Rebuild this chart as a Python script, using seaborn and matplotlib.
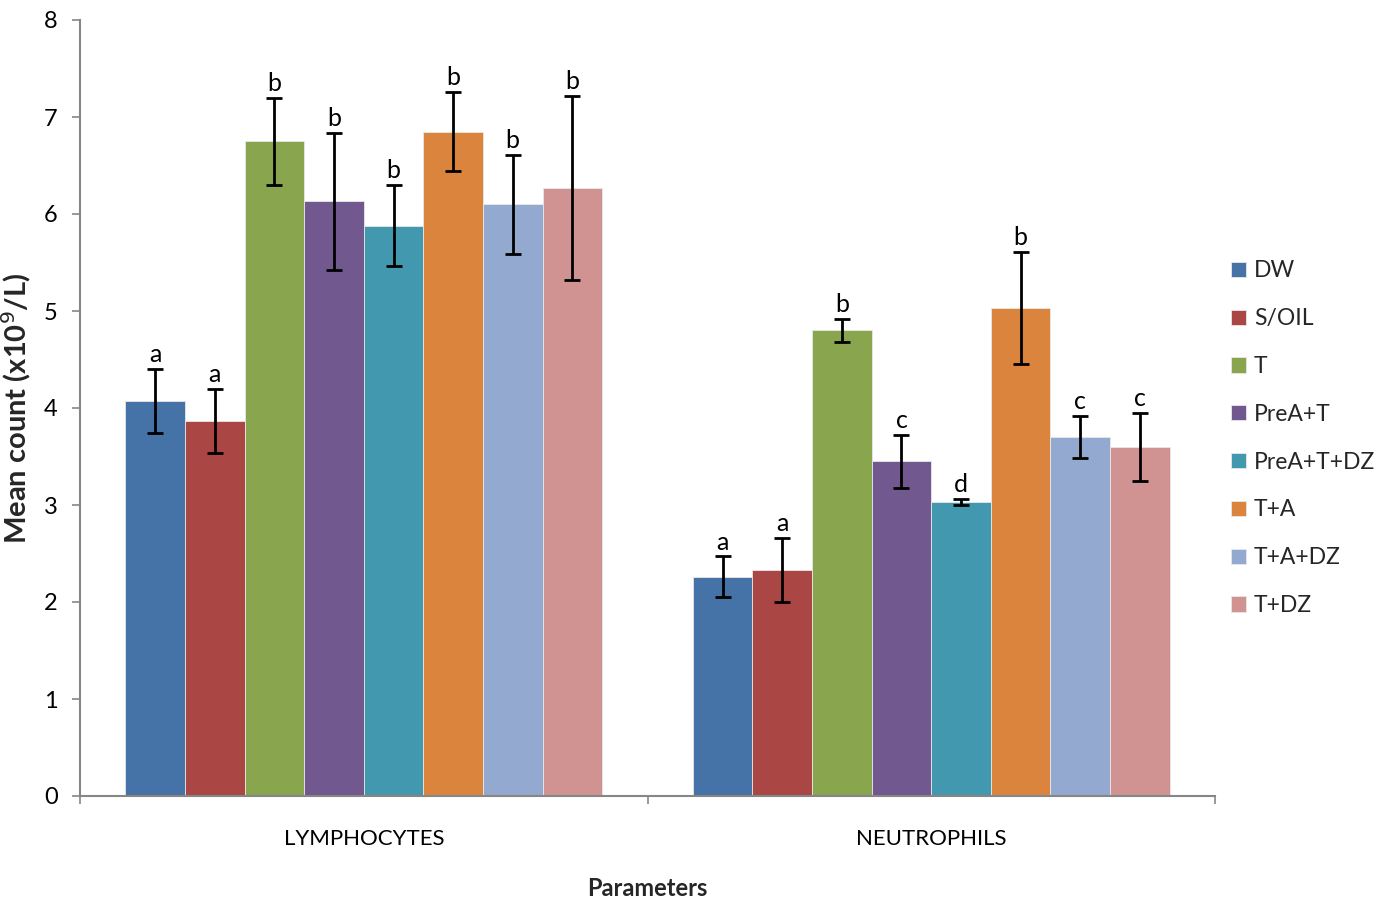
import matplotlib
matplotlib.use("Agg")
import matplotlib.pyplot as plt
import seaborn as sns
import pandas as pd
import numpy as np

parameters = ["LYMPHOCYTES", "NEUTROPHILS"]
groups = ["DW", "S/OIL", "T", "PreA+T", "PreA+T+DZ", "T+A", "T+A+DZ", "T+DZ"]
lymph_mean = [4.07, 3.87, 6.75, 6.13, 5.88, 6.85, 6.10, 6.27]
lymph_err = [0.33, 0.33, 0.45, 0.71, 0.42, 0.41, 0.51, 0.95]
lymph_letters = ["a", "a", "b", "b", "b", "b", "b", "b"]
neut_mean = [2.26, 2.33, 4.80, 3.45, 3.03, 5.03, 3.70, 3.60]
neut_err = [0.21, 0.33, 0.12, 0.27, 0.03, 0.58, 0.22, 0.35]
neut_letters = ["a", "a", "b", "c", "d", "b", "c", "c"]
colors = ["#4572A7", "#AA4643", "#89A54E", "#71588F", "#4198AF", "#DB843D", "#93A9CF", "#D19392"]

sns.set_theme(style="white")
plt.rcParams["font.family"] = ["Lato", "DejaVu Sans"]

rows = []
for p, means, errs, lets in [(parameters[0], lymph_mean, lymph_err, lymph_letters),
                             (parameters[1], neut_mean, neut_err, neut_letters)]:
    for g, m, e, l in zip(groups, means, errs, lets):
        rows.append({"Parameter": p, "Group": g, "Mean": m, "Err": e, "Letter": l})
df = pd.DataFrame(rows)

fig = plt.figure(figsize=(13.9, 8.98), dpi=100)
ax = fig.add_axes([80 / 1390, 1 - 796 / 898, (1215 - 80) / 1390, (796 - 20) / 898])

sns.barplot(data=df, x="Parameter", y="Mean", hue="Group", hue_order=groups,
            order=parameters, palette=colors, width=0.84, gap=0, ax=ax,
            errorbar=None, edgecolor="#e8e8e8", linewidth=0.6, saturation=1)

# error bars and letters using bar positions
for container, g in zip(ax.containers, groups):
    for bar, p in zip(container, parameters):
        r = df[(df.Group == g) & (df.Parameter == p)].iloc[0]
        xc = bar.get_x() + bar.get_width() / 2
        h = bar.get_height()
        ax.errorbar(xc, h, yerr=r.Err, fmt="none", ecolor="black",
                    elinewidth=2, capsize=6, capthick=2, zorder=5)
        ax.annotate(r.Letter, (xc, h + r.Err), xytext=(0, 2),
                    textcoords="offset points", ha="center", va="bottom",
                    fontsize=18, color="black")

ax.set_ylim(0, 8)
ax.set_xlim(-0.5, 1.5)
ax.set_yticks(range(0, 9))
ax.tick_params(axis="y", which="major", left=True, length=6, width=1.2,
               color="#868686", labelsize=17, pad=10, labelcolor="black")
ax.set_xticks([0, 1])
ax.set_xticklabels(parameters)
ax.tick_params(axis="x", which="major", length=0, labelsize=16, pad=24, labelcolor="black")
ax.set_xticks([-0.5, 0.5, 1.5], minor=True)
ax.tick_params(axis="x", which="minor", bottom=True, length=6, width=1.2, color="#868686")

for s in ["top", "right"]:
    ax.spines[s].set_visible(False)
for s in ["left", "bottom"]:
    ax.spines[s].set_color("#868686")
    ax.spines[s].set_linewidth(1.5)

ax.set_xlabel("Parameters", fontsize=17, fontweight="bold", labelpad=20)
ax.set_ylabel("Mean count (x10$^{9}$/L)", fontsize=21, fontweight="bold", labelpad=8)

handles, labels = ax.get_legend_handles_labels()
leg = ax.legend(handles, labels, loc="center left", bbox_to_anchor=(1.0, 0.461),
                frameon=False, fontsize=16.5, handlelength=0.65, handleheight=0.65,
                labelspacing=1.17, handletextpad=0.35, borderaxespad=0.3)

fig.savefig("out.png", dpi=100)
